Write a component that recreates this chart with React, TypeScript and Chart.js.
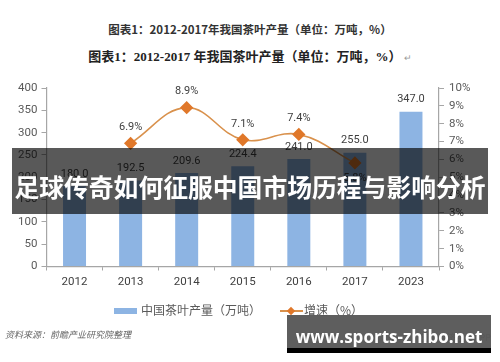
import React, { useEffect, useRef } from "react";
import { Chart, registerables } from "chart.js";

Chart.register(...registerables);

const categories = ["2012", "2013", "2014", "2015", "2016", "2017", "2023"];
const production = [180.0, 192.5, 209.6, 224.4, 241.0, 255.0, 347.0];
const growth: (number | null)[] = [null, 6.9, 8.9, 7.1, 7.4, 5.8, null];
const leftTicksMax = 400;
const rightTicksMax = 10;

const titleText1 = "图表1：2012-2017年我国茶叶产量（单位：万吨，%）";
const titleText2 = "图表1：2012-2017 年我国茶叶产量（单位：万吨，%）";
const legendBar = "中国茶叶产量（万吨）";
const legendLine = "增速（%）";
const sourceText = "资料来源：前瞻产业研究院整理";
const bannerText = "足球传奇如何征服中国市场历程与影响分析";
const siteText = "www.sports-zhibo.net";

const BAR_COLOR = "#8db4e3";
const LINE_COLOR = "#d9914c";
const MARKER_COLOR = "#e0782a";
const AXIS_COLOR = "#a6a6a6";
const TEXT_COLOR = "#595959";
const FONT = "Roboto, 'Noto Sans', sans-serif";
const CJK = "'Noto Sans CJK SC', 'Noto Sans', sans-serif";

const labelPlugin = {
  id: "valueLabels",
  afterDatasetsDraw(chart: any) {
    const ctx = chart.ctx;
    ctx.save();
    ctx.font = `11px ${FONT}`;
    ctx.fillStyle = "#404040";
    ctx.textAlign = "center";
    ctx.textBaseline = "middle";
    const barMeta = chart.getDatasetMeta(1);
    barMeta.data.forEach((el: any, i: number) => {
      const v = production[i];
      ctx.fillText(v.toFixed(1), el.x, el.y - 12);
    });
    const lineMeta = chart.getDatasetMeta(0);
    lineMeta.data.forEach((el: any, i: number) => {
      const v = growth[i];
      if (v == null) return;
      const below = i === 5;
      ctx.fillText(v.toFixed(1) + "%", el.x, below ? el.y + 15 : el.y - 16);
    });
    ctx.restore();
  },
};

export default function App() {
  const ref = useRef<HTMLCanvasElement | null>(null);
  useEffect(() => {
    if (!ref.current) return;
    const chart = new Chart(ref.current, {
      type: "bar",
      data: {
        labels: categories,
        datasets: [
          {
            type: "line",
            label: legendLine,
            data: growth as any,
            yAxisID: "y1",
            borderColor: LINE_COLOR,
            borderWidth: 1.6,
            tension: 0.4,
            pointStyle: "rectRot",
            pointRadius: 5.5,
            pointBackgroundColor: MARKER_COLOR,
            pointBorderColor: MARKER_COLOR,
            order: 0,
          } as any,
          {
            type: "bar",
            label: legendBar,
            data: production,
            yAxisID: "y",
            backgroundColor: BAR_COLOR,
            barPercentage: 0.41,
            categoryPercentage: 1,
            order: 1,
          },
        ],
      },
      options: {
        responsive: false,
        animation: false,
        devicePixelRatio: 1,
        layout: { padding: { top: 88, left: 0, right: 0, bottom: 0 } },
        plugins: { legend: { display: false }, tooltip: { enabled: false } },
        scales: {
          x: {
            grid: { drawOnChartArea: false, color: AXIS_COLOR, tickLength: 4, offset: true },
            border: { color: AXIS_COLOR, width: 1.2 },
            ticks: { color: "#404040", font: { family: FONT, size: 11.5 }, padding: 5 },
            afterFit: (s: any) => {
              s.height = 95.5;
            },
          },
          y: {
            position: "left",
            min: 0,
            max: leftTicksMax,
            ticks: { stepSize: 50, color: TEXT_COLOR, font: { family: FONT, size: 11.5 }, padding: 4 },
            grid: { drawOnChartArea: false, color: AXIS_COLOR, tickLength: 5 },
            border: { color: AXIS_COLOR, width: 1.2 },
            afterFit: (s: any) => {
              s.width = 46.5;
            },
          },
          y1: {
            position: "right",
            min: 0,
            max: rightTicksMax,
            ticks: {
              stepSize: 1,
              color: TEXT_COLOR,
              font: { family: FONT, size: 11.5 },
              padding: 5,
              callback: (v: any) => v + "%",
            },
            grid: { drawOnChartArea: false, color: AXIS_COLOR, tickLength: 5 },
            border: { color: AXIS_COLOR, width: 1.2 },
            afterFit: (s: any) => {
              s.width = 61;
            },
          },
        },
      },
      plugins: [labelPlugin],
    });
    return () => chart.destroy();
  }, []);

  const abs = (o: React.CSSProperties): React.CSSProperties => ({ position: "absolute", ...o });

  return (
    <div style={abs({ left: 0, top: 0, width: 500, height: 362, background: "#fff", overflow: "hidden" })}>
      <div
        style={abs({
          left: 0,
          width: 500,
          top: 20,
          textAlign: "center",
          font: `bold 11.5px ${CJK}`,
          color: "#333",
          lineHeight: "18px",
        })}
      >
        {titleText1}
      </div>
      <div
        style={abs({
          left: 0,
          width: 500,
          top: 47,
          textAlign: "center",
          font: `bold 13px 'Liberation Serif', 'Noto Sans CJK SC', serif`,
          color: "#222",
          lineHeight: "20px",
        })}
      >
        {titleText2}
        <span style={{ fontSize: 9, color: "#999", fontWeight: "normal" }}> ↵</span>
      </div>
      <canvas ref={ref} width={500} height={362} style={abs({ left: 0, top: 0, width: 500, height: 362 })} />
      {/* legend */}
      <div style={abs({ left: 114, top: 308, width: 23, height: 6, background: BAR_COLOR })} />
      <div style={abs({ left: 141, top: 301, font: `12px ${CJK}`, color: TEXT_COLOR, lineHeight: "18px", whiteSpace: "nowrap" })}>
        {legendBar}
      </div>
      <div style={abs({ left: 280, top: 310, width: 23, height: 1.6, background: LINE_COLOR })} />
      <div
        style={abs({
          left: 288,
          top: 307.5,
          width: 6,
          height: 6,
          background: MARKER_COLOR,
          transform: "rotate(45deg)",
        })}
      />
      <div style={abs({ left: 304, top: 301, font: `12px ${CJK}`, color: TEXT_COLOR, lineHeight: "18px", whiteSpace: "nowrap" })}>
        {legendLine}
      </div>
      <div
        style={abs({
          left: 5,
          top: 329,
          font: `italic 9px ${CJK}`,
          color: "#666",
          lineHeight: "12px",
          whiteSpace: "nowrap",
        })}
      >
        {sourceText}
      </div>
      {/* overlay banner */}
      <div style={abs({ left: 12, top: 148, width: 476, height: 66, background: "rgba(0,0,0,0.65)" })} />
      <div
        style={abs({
          left: 0,
          width: 500,
          top: 171,
          textAlign: "center",
          font: `bold 24.8px ${CJK}`,
          color: "#fff",
          lineHeight: "30px",
          whiteSpace: "nowrap",
        })}
      >
        {bannerText}
      </div>
      {/* site watermark */}
      <div style={abs({ left: 420, top: 331, font: `9px ${CJK}`, color: "#999", whiteSpace: "nowrap" })}>前瞻经济学人APP</div>
      <div style={abs({ left: 287, top: 315, width: 204, height: 33, background: "rgba(85,85,85,0.95)" })} />
      <div style={abs({ left: 287, top: 348, width: 204, height: 5, background: "#000" })} />
      <div
        style={abs({
          left: 287,
          width: 204,
          top: 325,
          textAlign: "center",
          font: `bold 17px 'Open Sans', 'Noto Sans', sans-serif`,
          color: "#fff",
          lineHeight: "24px",
          whiteSpace: "nowrap",
        })}
      >
        {siteText}
      </div>
    </div>
  );
}
